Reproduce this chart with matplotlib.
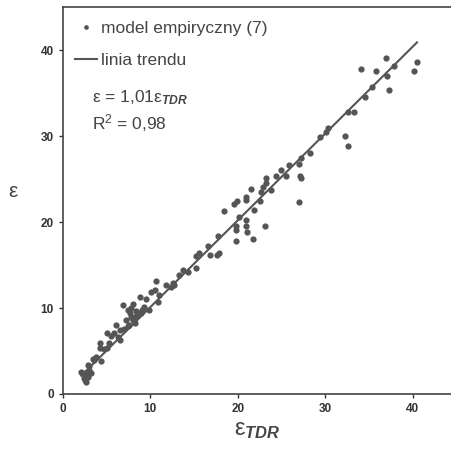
import matplotlib.pyplot as plt
import numpy as np

plt.rcParams['font.family'] = ['Liberation Sans', 'DejaVu Sans']
plt.rcParams['mathtext.fontset'] = 'custom'
plt.rcParams['mathtext.rm'] = 'Liberation Sans'
plt.rcParams['mathtext.it'] = 'Liberation Sans:italic:bold'

eps_tdr = [34.1, 35.8, 36.9, 37.1, 37.3, 37.9, 40.1, 40.5, 35.4, 34.5,
           33.3, 32.6, 32.3, 32.6, 30.1, 30.3, 29.4, 28.3, 27.2, 27.0,
           27.1, 27.2, 27.0, 25.9, 25.5, 24.9, 24.4, 23.8, 23.2, 23.2,
           22.9, 22.5, 22.7, 23.1, 21.9, 21.8, 21.5, 21.0, 21.0, 21.0,
           21.0, 21.1, 20.2, 19.9, 19.6, 19.8, 19.8, 19.8, 18.4, 17.8,
           17.9, 17.6, 16.6, 16.8, 15.6, 15.2, 15.2, 13.7, 13.3, 12.7,
           12.6, 11.8, 11.0, 10.7, 10.5, 10.9, 10.1, 9.9, 9.5, 8.8,
           8.4, 8.0, 7.4, 7.8, 7.2, 6.9, 7.6, 7.0, 6.5, 6.1,
           5.9, 6.5, 5.5, 5.1, 5.3, 5.0, 4.2, 4.2, 4.4, 3.8,
           3.4, 3.0, 3.0, 2.9, 2.5, 2.3, 2.1, 2.6, 2.7, 3.2,
           2.9, 8.0, 8.3, 8.5, 8.9, 9.1, 7.8, 8.2, 7.5, 7.7,
           14.3, 12.4, 9.3, 6.3, 4.7, 3.6, 2.8, 2.4]
eps_model = [37.8, 37.6, 39.1, 37.0, 35.4, 38.1, 37.6, 38.6, 35.7, 34.6,
             32.8, 32.8, 30.0, 28.9, 30.5, 31.0, 29.9, 28.0, 27.4, 26.8,
             25.4, 25.1, 22.3, 26.6, 25.4, 26.1, 25.4, 23.7, 25.1, 24.6,
             24.1, 22.4, 23.5, 19.5, 21.4, 18.0, 23.9, 22.9, 22.6, 20.2,
             19.6, 18.8, 20.6, 22.4, 22.1, 19.5, 17.8, 19.1, 21.3, 18.4,
             16.4, 16.2, 17.2, 16.2, 16.4, 16.0, 14.6, 14.4, 13.8, 12.7,
             12.9, 12.7, 11.5, 13.1, 12.1, 10.7, 11.9, 9.8, 11.1, 11.3,
             9.6, 10.5, 9.8, 9.0, 8.6, 10.3, 8.0, 7.6, 7.4, 8.0,
             7.1, 6.3, 6.7, 7.1, 5.9, 5.3, 5.9, 5.3, 3.8, 4.3,
             4.1, 3.2, 2.8, 2.0, 1.6, 2.4, 2.6, 2.2, 1.4, 2.4,
             3.4, 8.6, 9.0, 9.2, 9.4, 9.8, 10.0, 8.3, 7.9, 9.4,
             14.2, 12.5, 10.1, 6.6, 5.2, 4.0, 2.6, 1.9]

slope = 1.01
r2 = 0.98

fig = plt.figure(figsize=(4.52, 4.49), dpi=100)
ax = fig.add_axes([0.139, 0.1225, 0.861, 0.8615])

col = '#555555'
ax.plot(eps_tdr, eps_model, 'o', color=col, markersize=4.5, markeredgewidth=0,
        label='model empiryczny (7)')
xl = np.array([min(eps_tdr), max(eps_tdr)])
ax.plot(xl, slope * xl, '-', color=col, linewidth=1.5, label='linia trendu')

ax.set_xlim(0, 44.5)
ax.set_ylim(0, 45)
ax.set_xticks([0, 10, 20, 30, 40])
ax.set_yticks([0, 10, 20, 30, 40])
ax.tick_params(direction='out', length=3, width=1, labelsize=8.5, colors='#333333')
for lab in ax.get_xticklabels() + ax.get_yticklabels():
    lab.set_fontweight('bold')
for s in ['left', 'bottom', 'top']:
    ax.spines[s].set_color('#444444')
    ax.spines[s].set_linewidth(1.2)
ax.spines['right'].set_visible(False)

ax.set_xlabel('ε' + r'$_{TDR}$', fontsize=17, color='#444444', labelpad=3)
ax.set_ylabel('ε', fontsize=15, color='#444444', rotation=0, labelpad=20)

leg = ax.legend(loc='upper left', bbox_to_anchor=(-0.01, 1.005), frameon=False,
                fontsize=12.5, handlelength=1.3, handletextpad=0.25, labelspacing=0.95,
                markerscale=0.75)
for t in leg.get_texts():
    t.set_color('#444444')

ax.text(0.076, 0.767, 'ε = ' + f'{slope:.2f}'.replace('.', ',') + 'ε' + r'$_{TDR}$',
        transform=ax.transAxes, fontsize=12.5, color='#444444', va='center')
ax.text(0.076, 0.70, r'R$^2$ = ' + f'{r2:.2f}'.replace('.', ','),
        transform=ax.transAxes, fontsize=12.5, color='#444444', va='center')

fig.savefig('out.png', dpi=100)
